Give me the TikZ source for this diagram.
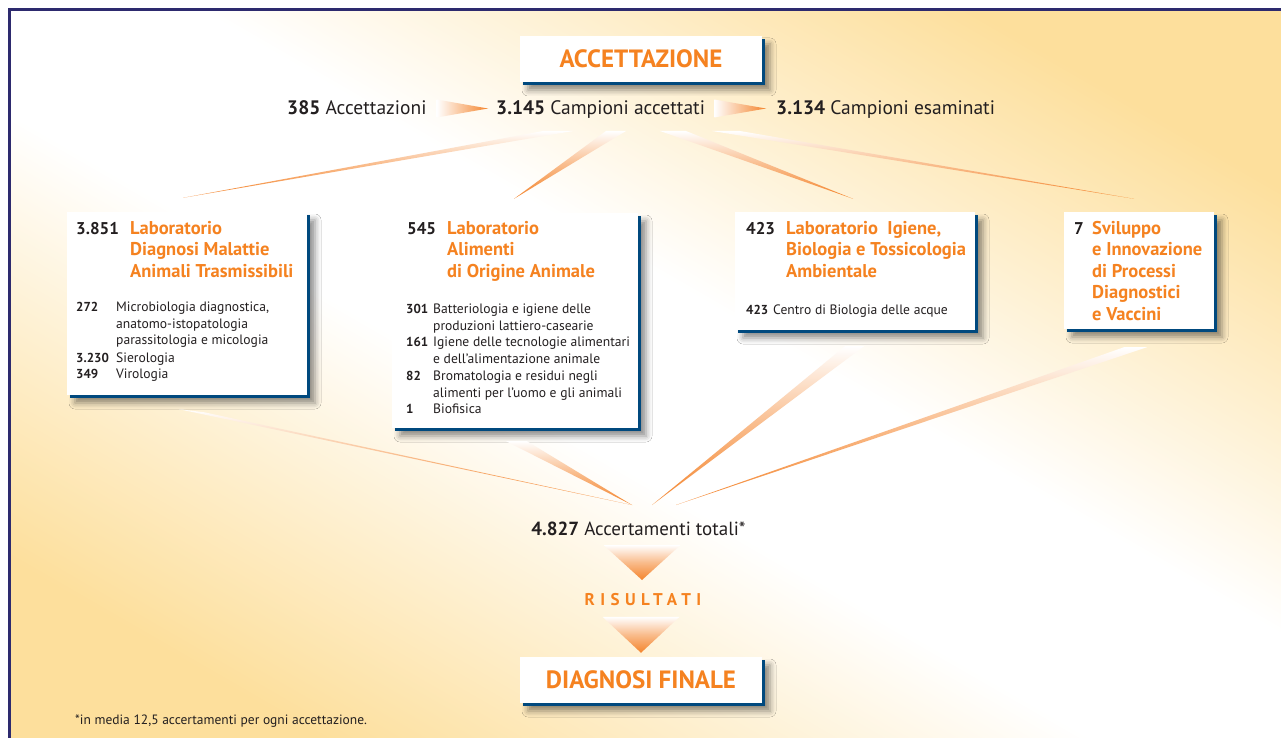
\documentclass[tikz,border=0pt]{standalone}
\usepackage{fontspec}
\setmainfont{PT Sans}
\usetikzlibrary{calc,shadows,shadows.blur}

\definecolor{bgyellow}{HTML}{FDDF9C}
\definecolor{framenavy}{HTML}{2D2A6E}
\definecolor{laborange}{HTML}{F58220}
\definecolor{rayorange}{HTML}{F4842C}
\definecolor{boxblue}{HTML}{00497E}
\definecolor{txtdark}{HTML}{231F20}

\pgfdeclareverticalshading{bgband}{100bp}{color(0bp)=(bgyellow); color(24bp)=(bgyellow); color(45bp)=(white); color(55bp)=(white); color(76bp)=(bgyellow); color(100bp)=(bgyellow)}

\newcommand{\stack}[1]{\begin{tabular}[t]{@{}l@{}}#1\end{tabular}}

\tikzset{
	panel/.style={fill=white, inner sep=0pt,
		blur shadow={shadow xshift=8pt, shadow yshift=-8pt, shadow blur radius=6pt, shadow opacity=45},
		general shadow={fill=boxblue, shadow xshift=3pt, shadow yshift=-3pt}},
	heading/.style={text=laborange, font=\fontsize{25}{28}\selectfont\bfseries},
	rowtxt/.style={text=txtdark, anchor=base west, inner sep=0pt, font=\fontsize{19.5}{22}\selectfont},
	labnum/.style={text=txtdark, anchor=base west, inner sep=0pt, font=\fontsize{17}{21.5}\selectfont\bfseries},
	labtitle/.style={text=laborange, anchor=base west, inner sep=0pt, font=\fontsize{18.5}{21.5}\selectfont\bfseries},
	itemnum/.style={text=txtdark, anchor=base west, inner sep=0pt, font=\fontsize{13}{16.7}\selectfont\bfseries},
	itemtxt/.style={text=txtdark, anchor=base west, inner sep=0pt, font=\fontsize{13.6}{16.7}\selectfont},
	ray/.style={top color=white, bottom color=rayorange, middle color=rayorange!55!white},
	wedge/.style={left color=white, right color=rayorange},
}

\begin{document}
\begin{tikzpicture}[x=1pt, y=-1pt]
	\useasboundingbox (0,0) rectangle (1281,738);
	\begin{scope}
		\clip (10,10) rectangle (1281,738);
		\shade[shading=bgband, shading angle=-30] (10,10) rectangle (1281,738);
	\end{scope}
	\draw[framenavy, line width=2.5pt] (9.5,738) -- (9.5,9.5) -- (1281,9.5);

	\node[panel, heading, minimum width=242pt, minimum height=46pt] (acc) at (641,59) {ACCETTAZIONE};
	\node[rowtxt] (accn) at (287,114.5) {\textbf{385} Accettazioni};
	\node[rowtxt] (camp) at (496,114.5) {\textbf{3.145} Campioni accettati};
	\node[rowtxt] (esam) at (776,114.5) {\textbf{3.134} Campioni esaminati};
	\shade[wedge] ($(accn.base east)+(10,-15)$) -- ($(accn.base east)+(10,3)$) -- ($(camp.base west)+(-8,-6)$) -- cycle;
	\shade[wedge] ($(camp.base east)+(9,-15)$) -- ($(camp.base east)+(9,3)$) -- ($(esam.base west)+(-10,-6)$) -- cycle;

	\node[panel, minimum width=240pt, minimum height=183pt] (boxA) at (187,303.5) {};
	\node[panel, minimum width=246pt, minimum height=215pt] (boxB) at (515,320.5) {};
	\node[panel, minimum width=240pt, minimum height=118pt] (boxC) at (855,271) {};
	\node[panel, minimum width=150pt, minimum height=117pt] (boxD) at (1139,270.5) {};

	\coordinate (hub) at (641,131);
	\shade[ray] ($(hub)+(-98,0)$) -- ($(hub)+(-68,0)$) -- ($(boxA.north)+(-4,-14)$) -- cycle;
	\shade[ray] ($(hub)+(-35,0)$) -- ($(hub)+(-15,0)$) -- ($(boxB.north)+(-1,-14)$) -- cycle;
	\shade[ray] ($(hub)+(19,0)$) -- ($(hub)+(45,0)$) -- ($(boxC.north)+(-2,-13)$) -- cycle;
	\shade[ray] ($(hub)+(71,0)$) -- ($(hub)+(99,0)$) -- ($(boxD.north)+(-5,-13)$) -- cycle;

	\node[labnum] (numA) at (76,234) {3.851};
	\node[labtitle] (labA) at (130,234) {\stack{Laboratorio\\Diagnosi Malattie\\Animali Trasmissibili}};
	\node[itemnum] (a1) at (76,311.5) {272};
	\node[itemtxt] (ta1) at (116,311.5) {\stack{Microbiologia diagnostica,\\anatomo-istopatologia\\parassitologia e micologia}};
	\node[itemnum] (a2) at (76,362.5) {3.230};
	\node[itemtxt] (ta2) at (116,362.5) {Sierologia};
	\node[itemnum] (a3) at (76,378.5) {349};
	\node[itemtxt] (ta3) at (116,378.5) {Virologia};

	\node[labnum] (numB) at (407,234) {545};
	\node[labtitle] (labB) at (447,234) {\stack{Laboratorio\\Alimenti\\di Origine Animale}};
	\node[itemnum] (b1) at (406,313.5) {301};
	\node[itemtxt] (tb1) at (433,313.5) {\stack{Batteriologia e igiene delle\\produzioni lattiero-casearie}};
	\node[itemnum] (b2) at (406,346.9) {161};
	\node[itemtxt] (tb2) at (433,346.9) {\stack{Igiene delle tecnologie alimentari\\e dell’alimentazione animale}};
	\node[itemnum] (b3) at (406,380.3) {82};
	\node[itemtxt] (tb3) at (433,380.3) {\stack{Bromatologia e residui negli\\alimenti per l’uomo e gli animali}};
	\node[itemnum] (b4) at (406,413.7) {1};
	\node[itemtxt] (tb4) at (433,413.7) {Biofisica};

	\node[labnum] (numC) at (746,234) {423};
	\node[labtitle] (labC) at (786,234) {\stack{Laboratorio\ \ Igiene,\\Biologia e Tossicologia\\Ambientale}};
	\node[itemnum] (c1) at (746,314) {423};
	\node[itemtxt] (tc1) at (773,314) {Centro di Biologia delle acque};

	\node[labnum] (numD) at (1074,234) {7};
	\node[labtitle] (labD) at (1092,234) {\stack{Sviluppo\\e Innovazione\\di Processi\\Diagnostici\\e Vaccini}};

	\coordinate (sink) at (641,505);
	\shade[ray] ($(boxA.south)+(-8,14)$) -- ($(boxA.south)+(17,17)$) -- ($(sink)+(-9,0)$) -- cycle;
	\shade[ray] ($(boxB.south)+(-9,13)$) -- ($(boxB.south)+(12,13)$) -- ($(sink)+(-9,0)$) -- cycle;
	\shade[ray] ($(boxC.south)+(-10,16)$) -- ($(boxC.south)+(9,16)$) -- ($(sink)+(11,0)$) -- cycle;
	\shade[ray] ($(boxD.south)+(-15,18)$) -- ($(boxD.south)+(8,18)$) -- ($(sink)+(35,0)$) -- cycle;

	\node[rowtxt, anchor=base, font=\fontsize{19}{22}\selectfont] (tot) at (638.5,535) {\textbf{4.827} Accertamenti totali*};
	\node[text=laborange, font=\fontsize{17}{20}\selectfont\bfseries\addfontfeatures{LetterSpace=32}] (res) at (643,600) {RISULTATI};
	\node[panel, heading, minimum width=242pt, minimum height=46pt] (dfin) at (641,680) {DIAGNOSI FINALE};
	\shade[ray] ($(res)+(-39.5,-55)$) -- ($(res)+(37.5,-55)$) -- ($(res)+(-1,-20)$) -- cycle;
	\shade[ray] ($(dfin.north)+(-38.5,-40)$) -- ($(dfin.north)+(38.5,-40)$) -- ($(dfin.north)+(0,-4)$) -- cycle;

	\node[anchor=base west, inner sep=0pt, text=txtdark, font=\fontsize{13.5}{16}\selectfont] (note) at (75,724) {*in media 12,5 accertamenti per ogni accettazione.};
\end{tikzpicture}
\end{document}
